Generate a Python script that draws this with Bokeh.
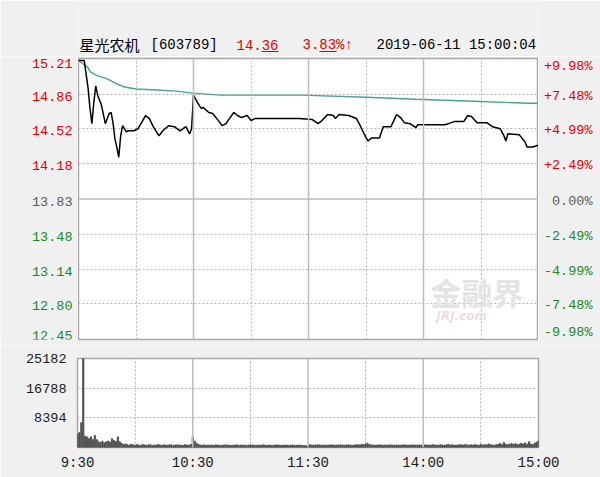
from bokeh.plotting import figure
from bokeh.models import Range1d, FixedTicker, Span, Label
from bokeh.layouts import column, row
from bokeh.core.properties import value
from bokeh.embed import file_html
from bokeh.resources import INLINE

# ---------------- data ----------------
stock_name = "星光农机"
stock_code = "[603789]"
last_price = "14.36"
change_pct = "3.83%↑"
timestamp = "2019-06-11 15:00:04"
prev_close = 13.83

price_minutes = [0, 3, 5, 6, 7, 8, 9, 10, 12, 14,
                 16, 17, 18, 19, 20, 21, 22, 23, 25, 26,
                 29, 31, 32, 35, 37, 39, 42, 44, 47, 50,
                 53, 56, 58, 59, 60, 62, 64, 65, 68, 70,
                 73, 75, 77, 78, 81, 83, 85, 88, 90, 92,
                 95, 98, 105, 115, 122, 125, 127, 130, 133, 134,
                 136, 141, 145, 147, 149, 151, 153, 157, 159, 163,
                 165, 166, 168, 170, 173, 176, 177, 191, 193, 196,
                 201, 203, 205, 208, 213, 216, 220, 222, 223, 224,
                 230, 233, 234, 237, 240]
price_values = [15.19, 15.19, 14.92, 14.72, 14.57, 14.78, 14.94, 14.85, 14.75, 14.57,
                14.67, 14.68, 14.58, 14.42, 14.34, 14.24, 14.45, 14.55, 14.49, 14.50,
                14.50, 14.52, 14.55, 14.65, 14.62, 14.54, 14.45, 14.50, 14.55, 14.54,
                14.50, 14.54, 14.47, 14.52, 14.85, 14.78, 14.72, 14.73, 14.68, 14.67,
                14.60, 14.55, 14.57, 14.60, 14.68, 14.65, 14.63, 14.65, 14.60, 14.62,
                14.62, 14.62, 14.62, 14.62, 14.61, 14.57, 14.60, 14.66, 14.65, 14.62,
                14.66, 14.65, 14.62, 14.55, 14.47, 14.40, 14.43, 14.43, 14.54, 14.54,
                14.62, 14.66, 14.63, 14.58, 14.57, 14.53, 14.56, 14.56, 14.57, 14.59,
                14.59, 14.65, 14.64, 14.58, 14.58, 14.54, 14.52, 14.45, 14.40, 14.47,
                14.46, 14.39, 14.34, 14.34, 14.36]

avg_minutes = [0, 5, 6, 10, 15, 20, 24, 30, 41, 51, 60, 74, 100, 116, 150, 176, 206, 235, 240]
avg_values = [15.19, 15.12, 15.08, 15.04, 15.01, 14.96, 14.93, 14.91, 14.90, 14.89,
              14.87, 14.85, 14.85, 14.85, 14.83, 14.81, 14.79, 14.77, 14.77]

volume = [3900, 4200, 7000, 25182, 3200, 3000, 2500, 3000, 2200, 3400,
          2200, 1600, 1400, 1800, 1300, 1600, 1800, 1500, 2500, 2000,
          1700, 3000, 1600, 1100, 900, 1000, 800, 700, 900, 750,
          650, 800, 700, 600, 850, 700, 650, 750, 800, 600,
          700, 650, 900, 700, 600, 750, 700, 650, 800, 700,
          600, 700, 750, 650, 700, 600, 800, 700, 650, 900,
          3000, 1800, 1200, 900, 700, 650, 750, 600, 700, 650,
          700, 600, 750, 700, 650, 600, 700, 750, 650, 700,
          600, 650, 700, 750, 600, 700, 650, 700, 600, 650,
          750, 700, 650, 600, 700, 650, 700, 750, 600, 650,
          700, 600, 650, 700, 750, 650, 600, 700, 650, 700,
          600, 650, 700, 650, 600, 700, 650, 600, 550, 500,
          500, 800, 700, 650, 700, 750, 700, 650, 700, 700,
          650, 700, 750, 700, 650, 700, 700, 750, 700, 650,
          700, 750, 700, 650, 700, 750, 800, 700, 900, 800,
          1000, 1200, 800, 750, 700, 650, 700, 750, 700, 650,
          700, 650, 700, 750, 700, 650, 700, 700, 650, 700,
          750, 700, 650, 700, 700, 750, 650, 700, 700, 650,
          700, 750, 700, 650, 700, 800, 700, 650, 700, 750,
          700, 650, 700, 900, 700, 750, 700, 650, 700, 800,
          750, 700, 900, 700, 650, 750, 700, 800, 700, 650,
          900, 700, 800, 750, 1000, 800, 700, 650, 800, 900,
          1100, 800, 1400, 900, 800, 1000, 1100, 900, 1100, 800,
          900, 1200, 1000, 1300, 900, 1600, 1000, 800, 1200, 1500, 1900]
volume_minutes = list(range(len(volume)))

price_ticks = [15.21, 14.86, 14.52, 14.18, 13.83, 13.48, 13.14, 12.80, 12.45]
price_tick_labels = ["15.21", "14.86", "14.52", "14.18", "13.83", "13.48", "13.14", "12.80", "12.45"]
pct_tick_labels = ["+9.98%", "+7.48%", "+4.99%", "+2.49%", "0.00%", "-2.49%", "-4.99%", "-7.48%", "-9.98%"]
volume_ticks = [8394, 16788, 25182]
time_ticks = [0, 60, 120, 180, 240]
time_labels = ["9:30", "10:30", "11:30", "14:00", "15:00"]
half_hour_ticks = [30, 90, 150, 210]
watermark = "金融界"
watermark_sub = "JRJ.com"

# ---------------- style ----------------
BG = "#f0f0f0"
RED = "#e00000"
GREEN = "#1a8a1a"
GRAY = "#5a5a5a"
GRID = "#b4b4b4"
SOLID = "#bdbdbd"
FRAME = "#a8a8a8"
MONO = "Liberation Mono"
CJK = "Noto Sans CJK SC"
W = 600
PLOT_L, PLOT_R = 78, 538
VOL_L = 77
HEADER_H = 56
PRICE_TOP, PRICE_BOT = 2, 6      # borders of the price row
PRICE_H = 289


def bare(width, height, xr, yr, **kw):
    f = figure(width=width, height=height, x_range=xr, y_range=yr,
               output_backend="svg", toolbar_location=None,
               x_axis_location=None, y_axis_location=None,
               background_fill_color=BG, border_fill_color=BG,
               outline_line_color=None, **kw)
    f.grid.visible = False
    return f


# ---------------- header (same horizontal borders as the volume panel) ----------------
h = bare(W, HEADER_H, Range1d(VOL_L, PLOT_R), Range1d(HEADER_H, 0),
         min_border_left=VOL_L, min_border_right=W - PLOT_R,
         min_border_top=0, min_border_bottom=0)
hy = 44
header_parts = [(79, stock_name, "black", CJK, "15px"),
                (150, stock_code, "black", MONO, "14px"),
                (236, last_price, RED, MONO, "14px"),
                (302, change_pct, RED, MONO, "14px"),
                (376, timestamp, "black", MONO, "14px")]
for xx, txt, col, fnt, fs in header_parts:
    h.text(x=[xx], y=[hy], text=[txt], text_color=col, text_font=value(fnt),
           text_font_size=fs, text_baseline="middle", text_align="left")
# underlined decimals
h.segment(x0=[261, 319], y0=[51, 51], x1=[278, 336], y1=[51, 51], line_color=RED, line_width=1)

# ---------------- price panel ----------------
yr = Range1d(min(price_ticks), max(price_ticks))
xr = Range1d(0, 240)
p = figure(width=PLOT_R - PLOT_L, height=PRICE_H, x_range=xr, y_range=yr,
           output_backend="svg", toolbar_location=None,
           x_axis_location=None, y_axis_location=None,
           min_border_left=0, min_border_right=0,
           min_border_top=PRICE_TOP, min_border_bottom=PRICE_BOT,
           background_fill_color="white", border_fill_color=BG,
           outline_line_color=FRAME, outline_line_width=1.5)
p.xgrid.ticker = FixedTicker(ticks=half_hour_ticks)
p.ygrid.ticker = FixedTicker(ticks=[t for t in price_ticks if t != prev_close])
for g in (p.xgrid, p.ygrid):
    g.grid_line_color = GRID
    g.grid_line_dash = "2 2"
    g.grid_line_width = 1
for t in time_ticks[1:-1]:
    p.add_layout(Span(location=t, dimension="height", line_color=SOLID, line_width=1.5))
p.add_layout(Span(location=prev_close, dimension="width", line_color=SOLID, line_width=1.5))

p.add_layout(Label(x=352, x_units="screen", y=48, y_units="screen", text=watermark,
                   text_baseline="middle", text_color="#e4e4e4", text_font=CJK,
                   text_font_size="31px", text_font_style="bold"))
p.add_layout(Label(x=358, x_units="screen", y=24, y_units="screen", text=watermark_sub,
                   text_baseline="middle", text_color="#f0dcdc", text_font="DejaVu Sans",
                   text_font_size="12px", text_font_style="bold italic"))

p.line(avg_minutes, avg_values, line_color="#4c9f9f", line_width=1.4)
p.line(price_minutes, price_values, line_color="black", line_width=1.5)

# tick label strips (share the price y range)
tick_colors = [RED if t > prev_close else (GREEN if t < prev_close else GRAY) for t in price_ticks]
top_i = price_ticks.index(max(price_ticks))
bot_i = price_ticks.index(min(price_ticks))
mid_i = [i for i in range(len(price_ticks)) if i not in (top_i, bot_i)]

left = bare(PLOT_L, PRICE_H, Range1d(0, PLOT_L), yr,
            min_border_left=0, min_border_right=0,
            min_border_top=PRICE_TOP, min_border_bottom=PRICE_BOT)
right = bare(W - PLOT_R, PRICE_H, Range1d(PLOT_R, W), yr,
             min_border_left=0, min_border_right=0,
             min_border_top=PRICE_TOP, min_border_bottom=PRICE_BOT)
for strip, xx, labels in ((left, 72, price_tick_labels), (right, 592, pct_tick_labels)):
    for idx, base, off in (([top_i], "top", 0), ([bot_i], "bottom", 0), (mid_i, "middle", 2)):
        strip.text(x=[xx] * len(idx), y=[price_ticks[i] for i in idx],
                   text=[labels[i] for i in idx], text_color=[tick_colors[i] for i in idx],
                   text_font=value(MONO), text_font_size="13.5px",
                   text_align="right", text_baseline=base, y_offset=off)

# ---------------- volume panel ----------------
v = figure(width=W, height=477 - HEADER_H - PRICE_H, x_range=xr,
           y_range=Range1d(0, max(volume_ticks)),
           output_backend="svg", toolbar_location=None,
           min_border_left=VOL_L, min_border_right=W - PLOT_R, min_border_top=13, min_border_bottom=30,
           background_fill_color="white", border_fill_color=BG,
           outline_line_color=FRAME, outline_line_width=1.5)
v.vbar(x=volume_minutes, top=volume, width=0.6, color="#505050")
v.xaxis.ticker = FixedTicker(ticks=time_ticks)
v.xaxis.major_label_overrides = {t: l for t, l in zip(time_ticks, time_labels)}
v.yaxis.ticker = FixedTicker(ticks=volume_ticks)
for ax in (v.xaxis, v.yaxis):
    ax.axis_line_color = None
    ax.major_tick_line_color = None
    ax.minor_tick_line_color = None
    ax.major_label_text_font = MONO
    ax.major_label_text_color = "#1a1a1a"
v.xaxis.major_label_text_font_size = "14px"
v.xaxis.major_label_standoff = 1
v.yaxis.major_label_text_font_size = "13.5px"
v.yaxis.major_label_standoff = 5
v.xgrid.ticker = FixedTicker(ticks=half_hour_ticks)
v.ygrid.ticker = FixedTicker(ticks=volume_ticks[:-1])
for g in (v.xgrid, v.ygrid):
    g.grid_line_color = GRID
    g.grid_line_dash = "2 2"
    g.grid_line_width = 1
for t in time_ticks[1:-1]:
    v.add_layout(Span(location=t, dimension="height", line_color=SOLID, line_width=1.5))

layout = column(h, row(left, p, right, spacing=0), v, spacing=0)
open("out.html", "w").write(file_html(layout, INLINE))
